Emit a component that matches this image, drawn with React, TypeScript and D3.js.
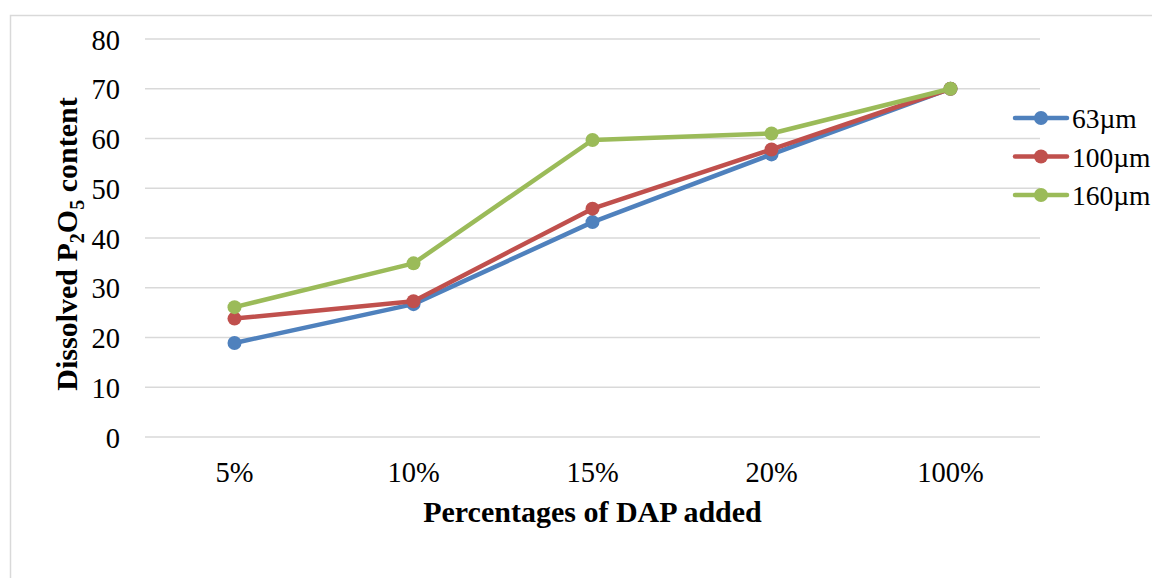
import React, { useEffect, useRef } from "react";
import * as d3 from "d3";

const categories = ["5%", "10%", "15%", "20%", "100%"];
const seriesNames = ["63µm", "100µm", "160µm"];
const seriesColors = ["#4f81bd", "#c0504d", "#9bbb59"];
const values63 = [18.9, 26.7, 43.2, 56.8, 70];
const values100 = [23.8, 27.3, 45.9, 57.8, 70];
const values160 = [26.1, 34.9, 59.7, 61.0, 70];
const yTicks = [0, 10, 20, 30, 40, 50, 60, 70, 80];

const W = 1152;
const H = 578;
const FONT = "'Liberation Serif', 'Times New Roman', serif";
const TICK_SIZE = 28.5;
const LEGEND_SIZE = 27.5;
const TITLE_SIZE = 30;

export default function App() {
  const ref = useRef<SVGSVGElement | null>(null);

  useEffect(() => {
    const svg = d3.select(ref.current);
    svg.selectAll("*").remove();

    const left = 145, right = 1040, top = 39, bottom = 437;
    const x = d3.scaleBand<string>().domain(categories).range([left, right]);
    const y = d3.scaleLinear().domain([0, 80]).range([bottom, top]);
    const cx = (c: string) => (x(c) as number) + x.bandwidth() / 2;

    // chart area frame
    svg.append("rect")
      .attr("x", 10.5).attr("y", 15.5)
      .attr("width", W + 20).attr("height", H + 20)
      .attr("fill", "#fff").attr("stroke", "#d9d9d9").attr("stroke-width", 1.5);

    // horizontal gridlines
    svg.append("g").selectAll("line").data(yTicks).join("line")
      .attr("x1", left).attr("x2", right)
      .attr("y1", (d) => y(d)).attr("y2", (d) => y(d))
      .attr("stroke", "#d9d9d9").attr("stroke-width", 1.5);

    // y tick labels
    svg.append("g").selectAll("text").data(yTicks).join("text")
      .attr("x", 120).attr("y", (d) => y(d) + 10.5)
      .attr("text-anchor", "end")
      .attr("font-family", FONT).attr("font-size", TICK_SIZE).attr("fill", "#000")
      .text((d) => String(d));

    // x tick labels
    svg.append("g").selectAll("text").data(categories).join("text")
      .attr("x", (d) => cx(d)).attr("y", 482)
      .attr("text-anchor", "middle")
      .attr("font-family", FONT).attr("font-size", TICK_SIZE).attr("fill", "#000")
      .text((d) => d);

    // x axis title
    svg.append("text")
      .attr("x", (left + right) / 2).attr("y", 522)
      .attr("text-anchor", "middle")
      .attr("font-family", FONT).attr("font-size", TITLE_SIZE).attr("font-weight", "bold")
      .text("Percentages of DAP added");

    // y axis title with subscripts
    const yt = svg.append("text")
      .attr("transform", `translate(77, 244) rotate(-90)`)
      .attr("text-anchor", "middle")
      .attr("font-family", FONT).attr("font-size", TITLE_SIZE).attr("font-weight", "bold");
    yt.append("tspan").text("Dissolved P");
    yt.append("tspan").attr("font-size", 20).attr("dy", 7).text("2");
    yt.append("tspan").attr("dy", -7).text("O");
    yt.append("tspan").attr("font-size", 20).attr("dy", 7).text("5");
    yt.append("tspan").attr("dy", -7).text(" content");

    const allSeries = [values63, values100, values160];
    const line = d3.line<number>()
      .x((_, i) => cx(categories[i]))
      .y((d) => y(d));

    allSeries.forEach((vals, si) => {
      const g = svg.append("g");
      g.append("path")
        .attr("d", line(vals) as string)
        .attr("fill", "none")
        .attr("stroke", seriesColors[si])
        .attr("stroke-width", 4.5)
        .attr("stroke-linejoin", "round")
        .attr("stroke-linecap", "round");
      g.selectAll("circle").data(vals).join("circle")
        .attr("cx", (_, i) => cx(categories[i]))
        .attr("cy", (d) => y(d))
        .attr("r", 7)
        .attr("fill", seriesColors[si]);
    });

    // legend
    const legend = svg.append("g");
    const rowY = [118, 156.5, 195];
    seriesNames.forEach((name, i) => {
      const ly = rowY[i];
      legend.append("line")
        .attr("x1", 1015).attr("x2", 1067)
        .attr("y1", ly).attr("y2", ly)
        .attr("stroke", seriesColors[i]).attr("stroke-width", 4.5)
        .attr("stroke-linecap", "round");
      legend.append("circle")
        .attr("cx", 1041).attr("cy", ly).attr("r", 7)
        .attr("fill", seriesColors[i]);
      legend.append("text")
        .attr("x", 1072).attr("y", ly + 10)
        .attr("font-family", FONT).attr("font-size", LEGEND_SIZE).attr("fill", "#000")
        .text(name);
    });
  }, []);

  return (
    <svg
      ref={ref}
      width={W}
      height={H}
      style={{ position: "absolute", left: 0, top: 0, background: "#fff" }}
    />
  );
}
